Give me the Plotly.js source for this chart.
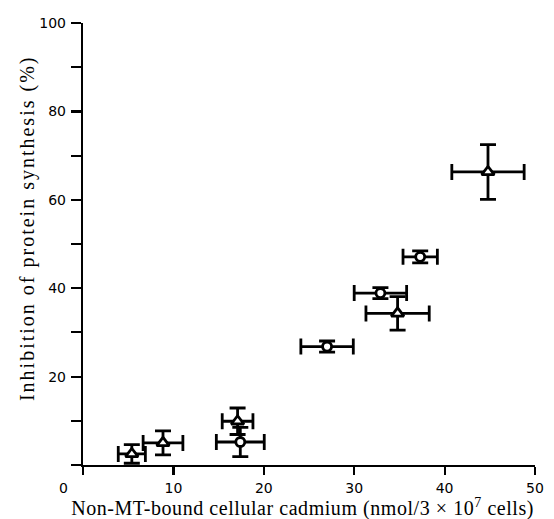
<!DOCTYPE html>
<html>
<head>
<meta charset="utf-8">
<script src="https://cdn.plot.ly/plotly-3.0.1.min.js"></script>
<style>
html,body{margin:0;padding:0;background:#fff;}
#chart{width:554px;height:519px;}
#chart .annotation.xt text {letter-spacing:0.55px;}
#chart .annotation.yt text {letter-spacing:2.0px;}
</style>
</head>
<body>
<div id="chart"></div>
<script>
// Open circles series
var circleX = [17.4, 27.0, 32.9, 37.3];
var circleY = [5.2, 26.8, 38.9, 47.1];
var circleXErr = [2.65, 2.9, 2.9, 1.9];
var circleYErr = [3.3, 1.25, 1.25, 1.35];

// Open triangles series
var triX = [5.4, 8.85, 17.1, 34.8, 44.8];
var triY = [2.5, 5.0, 9.9, 34.3, 66.3];
var triXErr = [1.5, 2.2, 1.7, 3.5, 4.0];
var triYErr = [2.1, 2.7, 3.0, 3.8, 6.2];

// Tick labels
var xTickVals = [0, 10, 20, 30, 40, 50];
var xTickText = ["", "10", "20", "30", "40", "50"];
var yTickVals = [0, 10, 20, 30, 40, 50, 60, 70, 80, 90, 100];
var yTickText = ["", "", "20", "", "40", "", "60", "", "80", "", "100"];

var xTitle = 'Non-MT-bound cellular cadmium (nmol/3 × 10<sup>7</sup> cells)';
var yTitle = 'Inhibition of protein synthesis (%)';

function errStyle(arr) {
  return {type: 'data', array: arr, visible: true, color: '#000', thickness: 2.8, width: 8};
}

var traces = [
  {
    x: circleX, y: circleY, mode: 'markers', type: 'scatter',
    error_x: errStyle(circleXErr), error_y: errStyle(circleYErr),
    marker: {symbol: 'circle', size: 9, color: '#fff', line: {color: '#000', width: 2.8}},
    showlegend: false, hoverinfo: 'skip'
  },
  {
    x: triX, y: triY, mode: 'markers', type: 'scatter',
    error_x: errStyle(triXErr), error_y: errStyle(triYErr),
    marker: {symbol: 'triangle-up', size: 11, color: '#fff', line: {color: '#000', width: 2.8}},
    showlegend: false, hoverinfo: 'skip'
  }
];

var tickFont = {family: 'DejaVu Sans', size: 14, color: '#000'};
var titleFont = {family: 'Liberation Serif', size: 20, color: '#000'};

var layout = {
  width: 554, height: 519,
  margin: {l: 83, r: 19, t: 23, b: 54},
  paper_bgcolor: '#fff', plot_bgcolor: '#fff',
  xaxis: {
    range: [0, 50], tickmode: 'array', tickvals: xTickVals, ticktext: xTickText,
    showgrid: false, zeroline: false, showline: true, linecolor: '#000', linewidth: 2.2,
    ticks: 'outside', ticklen: 8, tickwidth: 2.2, tickcolor: '#000',
    tickfont: tickFont, ticklabelstandoff: 1
  },
  yaxis: {
    range: [0, 100], tickmode: 'array', tickvals: yTickVals, ticktext: yTickText,
    showgrid: false, zeroline: false, showline: true, linecolor: '#000', linewidth: 2.2,
    ticks: 'outside', ticklen: 10, tickwidth: 2.2, tickcolor: '#000',
    tickfont: tickFont, ticklabelstandoff: 2
  },
  annotations: [
    {text: '0', xref: 'paper', yref: 'paper', x: -0.044, y: 0, yshift: -23,
     showarrow: false, font: tickFont, xanchor: 'center', yanchor: 'middle'},
    {text: xTitle, xref: 'paper', yref: 'paper', x: 0.4856, y: 0, yshift: -42,
     showarrow: false, font: titleFont, xanchor: 'center', yanchor: 'middle', name: 'xt'},
    {text: yTitle, xref: 'paper', yref: 'paper', x: -0.124, y: 0.536, textangle: -90,
     showarrow: false, font: titleFont, xanchor: 'center', yanchor: 'middle', name: 'yt'}
  ]
};

Plotly.newPlot('chart', traces, layout, {staticPlot: true, displayModeBar: false}).then(function(gd){
  var anns = gd.querySelectorAll('.annotation');
  if (anns[1]) anns[1].classList.add('xt');
  if (anns[2]) anns[2].classList.add('yt');
});
</script>
</body>
</html>
